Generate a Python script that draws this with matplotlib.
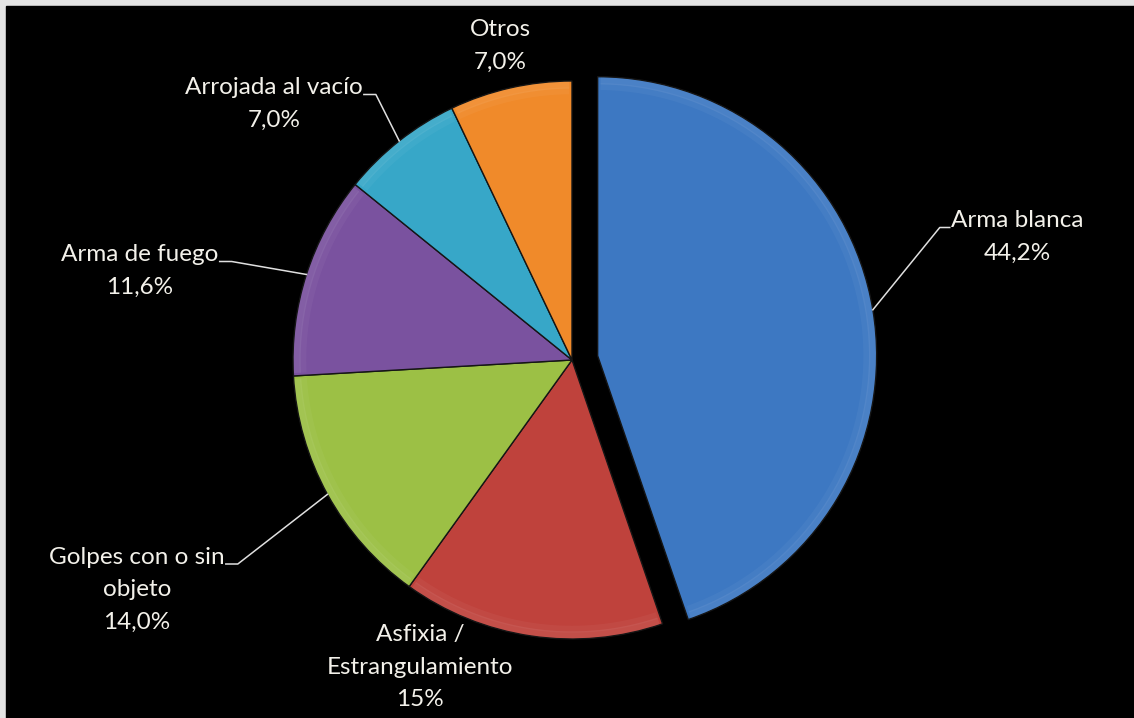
import numpy as np
import matplotlib.pyplot as plt
from matplotlib.patches import Rectangle

# data, clockwise from 12 o'clock
labels = ['Arma blanca', 'Asfixia /\nEstrangulamiento', 'Golpes con o sin\nobjeto',
          'Arma de fuego', 'Arrojada al vacío', 'Otros']
values = [44.2, 15.0, 14.0, 11.6, 7.0, 7.0]
pct_text = ['44,2%', '15%', '14,0%', '11,6%', '7,0%', '7,0%']
colors = ['#3d78c2', '#bf423c', '#9cc045', '#7a529f', '#37a7c8', '#f08a2a']

W, H = 1134, 718


def img(x, y):
    # image pixel coords (y down) -> data coords (y up)
    return x, H - y


# label anchor (centre of text block, image px) and whether a leader line is drawn
label_pos = [(1017, 237), (420, 667), (137, 590), (140, 271), (274, 104), (500, 46)]
leader = [True, False, True, True, True, False]
LINE = 33  # px between text lines

fig = plt.figure(figsize=(W / 100, H / 100), dpi=100, facecolor='#e4e4e4')
ax = fig.add_axes([0, 0, 1, 1])
ax.set_facecolor('#e4e4e4')
ax.add_patch(Rectangle((6, 0), W - 6, H - 6, color='black', zorder=0))
ax.set_xlim(0, W)
ax.set_ylim(0, H)

cx, cy = img(572, 360)
R = 279
explode = [26, 0, 0, 0, 0, 0]   # absolute offset in data units (= px)
wedges, _ = ax.pie(values, colors=colors, startangle=90, counterclock=False,
                   explode=explode, radius=R, center=(cx, cy),
                   wedgeprops=dict(edgecolor='#151515', linewidth=1.0))

# soft bevel highlight near the rim
for w in wedges:
    c = w.center
    tt = np.radians(np.linspace(w.theta1 + 0.6, w.theta2 - 0.6, 80))
    for k, a in [(0.985, 0.07), (0.965, 0.04)]:
        ax.plot(c[0] + R * k * np.cos(tt), c[1] + R * k * np.sin(tt),
                color='white', alpha=a, lw=5, solid_capstyle='butt', zorder=3)

fnt = dict(family=['Lato', 'DejaVu Sans'], fontsize=17.5, color='#f3f1ea')
fig.canvas.draw()
renderer = fig.canvas.get_renderer()
for i, w in enumerate(wedges):
    lx, ly = img(*label_pos[i])
    ax.text(lx, ly, labels[i] + '\n' + pct_text[i], ha='center', va='center',
            linespacing=1.66, zorder=5, **fnt)
    if leader[i]:
        mid = np.radians((w.theta1 + w.theta2) / 2)
        px = w.center[0] + R * np.cos(mid)
        py = w.center[1] + R * np.sin(mid)
        nlines = labels[i].count('\n') + 2
        first_y = ly + (nlines - 1) / 2 * LINE
        ty = first_y - 7
        first = labels[i].split('\n')[0]
        tmp = ax.text(lx, first_y, first, ha='center', va='center', **fnt)
        half = tmp.get_window_extent(renderer).width / 2
        tmp.remove()
        if px > lx:
            # slice lies to the right of the label
            sx = lx + half + 1
            ex = sx + 12
        else:
            sx = lx - half - 1
            ex = sx - 10
        ax.plot([sx, ex, px], [ty, ty, py], color='#e0e0e0', lw=1.1, zorder=4)

ax.set_aspect('equal')
ax.set_xlim(0, W)
ax.set_ylim(0, H)
ax.axis('off')

fig.savefig('out.png', dpi=100, facecolor=fig.get_facecolor())
